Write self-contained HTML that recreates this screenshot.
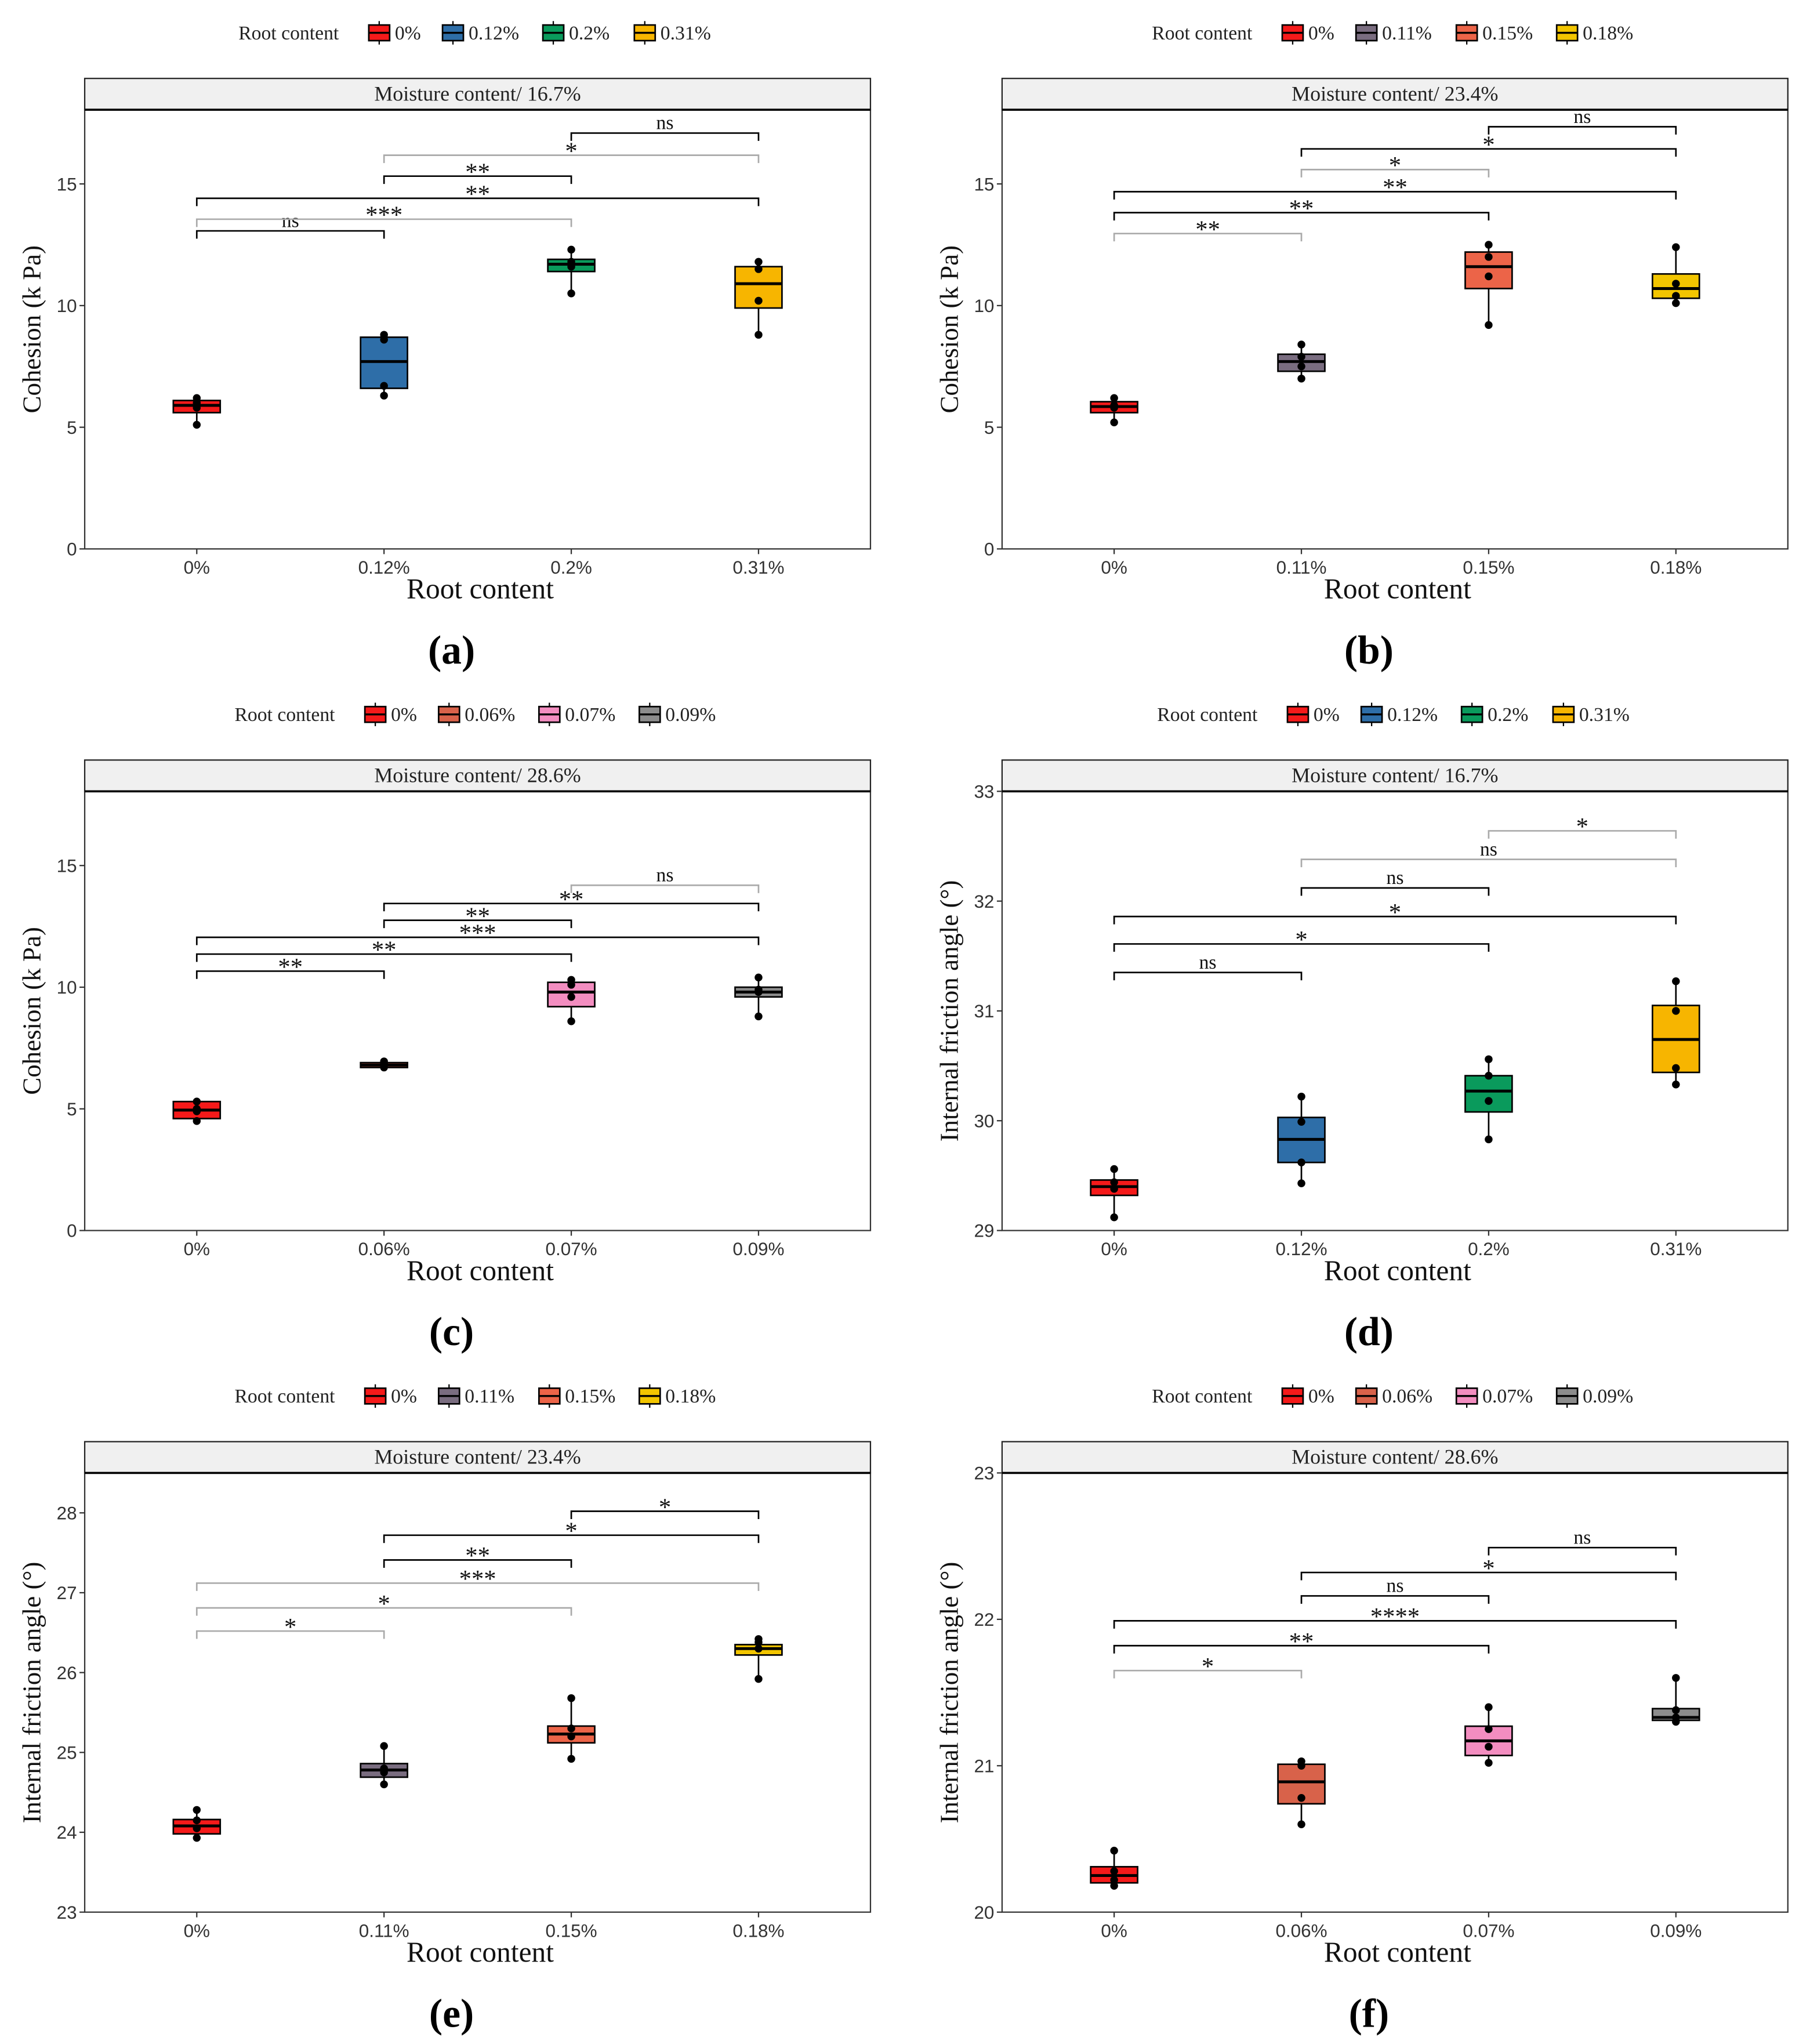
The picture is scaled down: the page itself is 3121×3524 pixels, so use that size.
<!DOCTYPE html>
<html><head><meta charset="utf-8"><style>
html,body{margin:0;padding:0;background:#fff}
svg{display:block}
text{font-family:"Liberation Serif",serif}
.tick{font-family:"Liberation Sans",sans-serif;font-size:14px;fill:#333}
</style></head><body>
<svg id="fig" width="3121" height="3524" viewBox="0 0 1389 1568" xmlns="http://www.w3.org/2000/svg"></svg>
<script>
// ---------- data ----------
const catsA=["0%","0.12%","0.2%","0.31%"];
const catsB=["0%","0.11%","0.15%","0.18%"];
const catsC=["0%","0.06%","0.07%","0.09%"];
const colA=["#f51a1a","#2e6ea8","#0a9a5c","#f7b500"];
const colB=["#f51a1a","#7a6d80","#ec6448","#f2c500"];
const colC=["#f51a1a","#d8624a","#f38dc0","#8c8c8c"];

const q1A=[5.6,6.6,11.4,9.9], medA=[5.9,7.7,11.7,10.9], q3A=[6.1,8.7,11.9,11.6];
const ptsA=[[5.1,5.8,6.0,6.2],[6.3,6.7,8.6,8.8],[10.5,11.6,11.8,12.3],[8.8,10.2,11.5,11.8]];
const q1B=[5.6,7.3,10.7,10.3], medB=[5.85,7.7,11.6,10.7], q3B=[6.05,8.0,12.2,11.3];
const ptsB=[[5.2,5.8,5.9,6.2],[7.0,7.5,7.9,8.4],[9.2,11.2,12.0,12.5],[10.1,10.4,10.9,12.4]];
const q1C=[4.6,6.7,9.2,9.6], medC=[4.95,6.8,9.8,9.8], q3C=[5.3,6.9,10.2,10.0];
const ptsC=[[4.5,4.9,5.0,5.3],[6.7,6.8,6.85,6.95],[8.6,9.6,10.1,10.3],[8.8,9.8,9.9,10.4]];
const q1D=[29.32,29.62,30.08,30.44], medD=[29.40,29.83,30.27,30.74], q3D=[29.46,30.03,30.41,31.05];
const ptsD=[[29.12,29.38,29.44,29.56],[29.43,29.62,29.99,30.22],[29.83,30.18,30.41,30.56],[30.33,30.48,31.0,31.27]];
const q1E=[23.98,24.69,25.12,26.22], medE=[24.08,24.78,25.23,26.3], q3E=[24.16,24.86,25.33,26.35];
const ptsE=[[23.93,24.05,24.15,24.28],[24.6,24.75,24.8,25.08],[24.92,25.2,25.3,25.68],[25.92,26.3,26.38,26.42]];
const q1F=[20.2,20.74,21.07,21.31], medF=[20.25,20.89,21.17,21.33], q3F=[20.31,21.01,21.27,21.39];
const ptsF=[[20.18,20.22,20.28,20.42],[20.6,20.78,21.0,21.03],[21.02,21.13,21.25,21.4],[21.3,21.33,21.38,21.6]];

// brackets: [from,to,y,label,gray]
const brA=[[0,1,13.07,"ns",0],[0,2,13.55,"***",1],[0,3,14.41,"**",0],[1,2,15.32,"**",0],[1,3,16.18,"*",1],[2,3,17.09,"ns",0]];
const brB=[[0,1,12.96,"**",1],[0,2,13.82,"**",0],[0,3,14.68,"**",0],[1,2,15.59,"*",1],[1,3,16.44,"*",0],[2,3,17.35,"ns",0]];
const brC=[[0,1,10.66,"**",0],[0,2,11.36,"**",0],[0,3,12.05,"***",0],[1,2,12.75,"**",0],[1,3,13.44,"**",0],[2,3,14.19,"ns",1]];
const brD=[[0,1,31.35,"ns",0],[0,2,31.61,"*",0],[0,3,31.86,"*",0],[1,2,32.12,"ns",0],[1,3,32.38,"ns",1],[2,3,32.64,"*",1]];
const brE=[[0,1,26.52,"*",1],[0,2,26.81,"*",1],[0,3,27.12,"***",1],[1,2,27.41,"**",0],[1,3,27.72,"*",0],[2,3,28.02,"*",0]];
const brF=[[0,1,21.65,"*",1],[0,2,21.82,"**",0],[0,3,21.99,"****",0],[1,2,22.16,"ns",0],[1,3,22.32,"*",0],[2,3,22.49,"ns",0]];

const ticksCoh=[0,5,10,15], ticksD=[29,30,31,32,33], ticksE=[23,24,25,26,27,28], ticksF=[20,21,22,23];

const panels=[
 {id:"a",x0:65,top:60,cats:catsA,cols:colA,q1:q1A,med:medA,q3:q3A,pts:ptsA,br:brA,ymin:0,ymax:18.05,ticks:ticksCoh,moist:"16.7%",yt:"Cohesion (k Pa)",leg:183},
 {id:"b",x0:769,top:60,cats:catsB,cols:colB,q1:q1B,med:medB,q3:q3B,pts:ptsB,br:brB,ymin:0,ymax:18.05,ticks:ticksCoh,moist:"23.4%",yt:"Cohesion (k Pa)",leg:884},
 {id:"c",x0:65,top:583,cats:catsC,cols:colC,q1:q1C,med:medC,q3:q3C,pts:ptsC,br:brC,ymin:0,ymax:18.05,ticks:ticksCoh,moist:"28.6%",yt:"Cohesion (k Pa)",leg:180},
 {id:"d",x0:769,top:583,cats:catsA,cols:colA,q1:q1D,med:medD,q3:q3D,pts:ptsD,br:brD,ymin:29,ymax:33,ticks:ticksD,moist:"16.7%",yt:"Internal friction angle (°)",leg:888},
 {id:"e",x0:65,top:1106,cats:catsB,cols:colB,q1:q1E,med:medE,q3:q3E,pts:ptsE,br:brE,ymin:23,ymax:28.5,ticks:ticksE,moist:"23.4%",yt:"Internal friction angle (°)",leg:180},
 {id:"f",x0:769,top:1106,cats:catsC,cols:colC,q1:q1F,med:medF,q3:q3F,pts:ptsF,br:brF,ymin:20,ymax:23,ticks:ticksF,moist:"28.6%",yt:"Internal friction angle (°)",leg:884}
];
const NS="http://www.w3.org/2000/svg";
const svg=document.getElementById('fig');
function mk(tag,attrs,parent,txt){const e=document.createElementNS(NS,tag);for(const k in attrs)e.setAttribute(k,attrs[k]);if(txt!==undefined)e.textContent=txt;(parent||svg).appendChild(e);return e;}

panels.forEach(p=>{
 const g=mk('g',{});
 
 
 const W=603, L=p.x0, R=L+W, stripTop=p.top, T=p.top+24, B=T+337;
 const xs=i=>L+86+i*143.7;
 const ys=v=>B-(v-p.ymin)/(p.ymax-p.ymin)*(B-T);
 const lg=mk('g',{},g);
 
 
 const ly=p.top-35;
 mk('text',{x:p.leg,y:ly+5,'font-size':15,fill:'#222'},lg,"Root content");
 let lx=p.leg+100;
 p.cats.forEach((c,i)=>{
  const k=mk('g',{},lg);
  
  
  mk('line',{x1:lx+8,x2:lx+8,y1:ly-9,y2:ly+9,stroke:'#000','stroke-width':1},k);
  mk('rect',{x:lx,y:ly-6,width:16,height:12,fill:p.cols[i],stroke:'#000','stroke-width':1.2},k);
  mk('line',{x1:lx,x2:lx+16,y1:ly,y2:ly,stroke:'#000','stroke-width':1.5},k);
  mk('text',{x:lx+20,y:ly+5,'font-size':15,fill:'#222'},k,c);
  lx+=43+c.length*6.8;
 });
 const st=mk('rect',{x:L,y:stripTop,width:W,height:24,fill:'#f0f0f0',stroke:'#222','stroke-width':1},g);
 
 
 mk('text',{x:L+W/2,y:stripTop+17,'font-size':16,'text-anchor':'middle',fill:'#222'},g,"Moisture content/ "+p.moist);
 const fr=mk('rect',{x:L,y:T,width:W,height:B-T,fill:'#fff',stroke:'#333','stroke-width':1},g);
 
 
 mk('line',{x1:L,x2:R,y1:T,y2:T,stroke:'#000','stroke-width':1.6},g);
 p.ticks.forEach(t=>{
  const y=ys(t);
  mk('line',{x1:L-4,x2:L,y1:y,y2:y,stroke:'#333'},g);
  const tl=mk('text',{x:L-6,y:y+5,'text-anchor':'end',class:'tick'},g,t);
  
  
 });
 p.cats.forEach((c,i)=>{
  mk('line',{x1:xs(i),x2:xs(i),y1:B,y2:B+4,stroke:'#333'},g);
  const tl=mk('text',{x:xs(i),y:B+19,'text-anchor':'middle',class:'tick'},g,c);
  
  
 });
 const xt=mk('text',{x:L+W/2+2,y:B+38,'text-anchor':'middle','font-size':22,fill:'#111'},g,"Root content");
 
 
 const yc=(T+B)/2;
 const yt=mk('text',{x:L-34,y:yc,'text-anchor':'middle','font-size':20,fill:'#111',transform:`rotate(-90 ${L-34} ${yc})`},g,p.yt);
 
 
 const pl=mk('text',{x:L+W/2-20,y:B+88,'text-anchor':'middle','font-size':31,'font-weight':'bold',fill:'#000'},g,"("+p.id+")");
 
 
 p.cats.forEach((c,i)=>{
  const bx=mk('g',{},g);
  
  
  const x=xs(i), pts=p.pts[i];
  const lo=Math.min(...pts), hi=Math.max(...pts);
  mk('line',{x1:x,x2:x,y1:ys(lo),y2:ys(hi),stroke:'#000','stroke-width':1.2},bx);
  mk('rect',{x:x-18,y:ys(p.q3[i]),width:36,height:Math.max(1,ys(p.q1[i])-ys(p.q3[i])),fill:p.cols[i],stroke:'#000','stroke-width':1.2},bx);
  mk('line',{x1:x-18,x2:x+18,y1:ys(p.med[i]),y2:ys(p.med[i]),stroke:'#000','stroke-width':2.2},bx);
  pts.forEach(v=>{
   const d=mk('circle',{cx:x,cy:ys(v),r:3,fill:'#000'},bx);
   
   
  });
 });
 p.br.forEach(b=>{
  const bg=mk('g',{},g);
  
  
  const x1=xs(b[0]),x2=xs(b[1]),y=ys(b[2]),col=b[4]?'#aaa':'#000';
  mk('path',{d:`M${x1} ${y+6}V${y}H${x2}V${y+6}`,fill:'none',stroke:col,'stroke-width':1.2},bg);
  const isNs=b[3]==='ns';
  mk('text',{x:(x1+x2)/2,y:isNs?y-3:y+3,'text-anchor':'middle','font-size':isNs?15:19,fill:'#111'},bg,b[3]);
 });
});
</script>
</body></html>
